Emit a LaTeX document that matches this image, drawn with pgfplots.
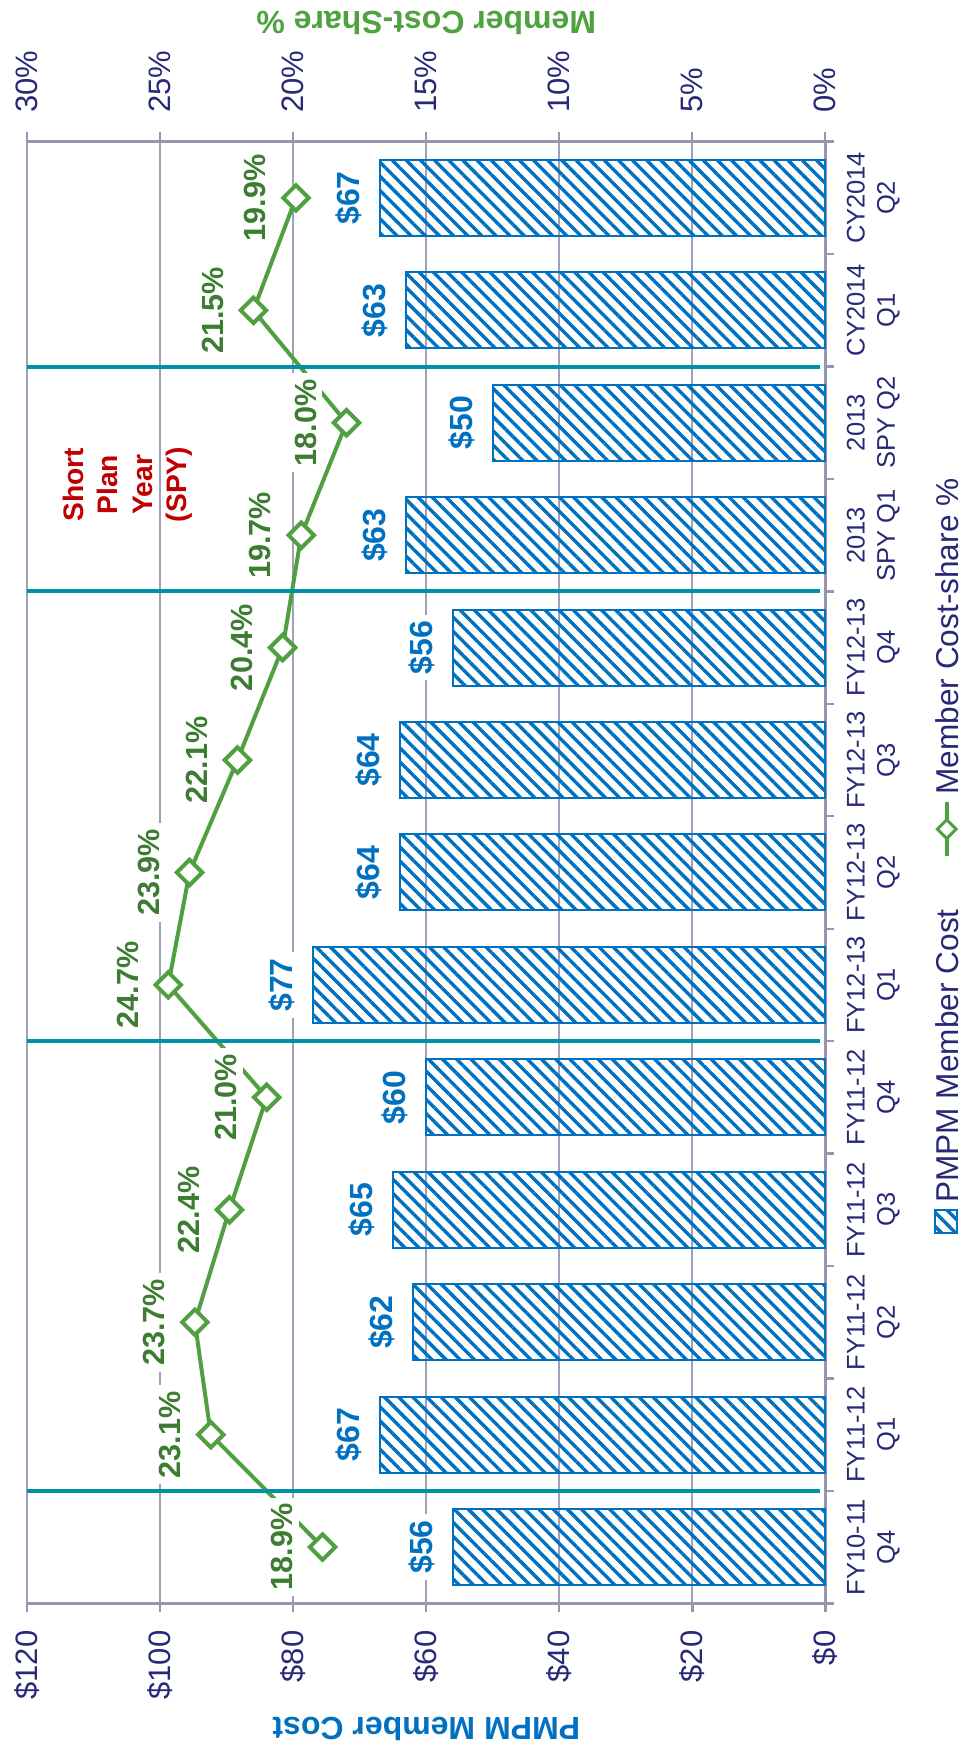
\documentclass[border=0pt]{standalone}
\usepackage{pgfplots}
\pgfplotsset{compat=1.18}
\usepackage{pgfplotstable}
\usepackage{fontspec}
\setmainfont{Liberation Sans}
\usetikzlibrary{patterns.meta}

\definecolor{barblue}{RGB}{0,112,192}
\definecolor{navy}{RGB}{40,40,120}
\definecolor{gridgray}{RGB}{160,160,186}
\definecolor{axisgray}{RGB}{150,150,176}
\definecolor{linegreen}{RGB}{80,160,65}
\definecolor{titlegreen}{RGB}{78,162,63}
\definecolor{labelgreen}{RGB}{60,125,50}
\definecolor{septeal}{RGB}{0,145,165}
\definecolor{spyred}{RGB}{192,0,0}

% quarter index, PMPM member cost ($), member cost-share (%)
\pgfplotstableread{
cat cost share
0   56   18.9
1   67   23.1
2   62   23.7
3   65   22.4
4   60   21.0
5   77   24.7
6   64   23.9
7   64   22.1
8   56   20.4
9   63   19.7
10  50   18.0
11  63   21.5
12  67   19.9
}\costdata

\tikzset{
  hatch/.style={draw=barblue, line width=1pt,
    pattern={Lines[angle=-45,distance=5pt,line width=1.7pt]}, pattern color=barblue},
  legendtext/.style={rotate=90, anchor=base west, inner sep=0pt,
    font=\fontsize{15.8}{18}\selectfont, text=navy},
}

\pgfplotsset{
  baseaxis/.style={
    scale only axis, width=399pt, height=730.8pt,
    at={(0pt,0pt)}, anchor=south west,
    x dir=reverse,
    ymin=-0.5, ymax=12.5,
    clip=false,
    axis line style={-, draw=axisgray, line width=1.2pt},
    tick style={draw=axisgray, line width=1.2pt},
    tick align=outside,
    /pgf/number format/assume math mode=true,
    tick label style={font=\fontsize{15.5}{18}\selectfont, text=navy, inner sep=0pt},
  },
}

\begin{document}
\begin{tikzpicture}
\path[use as bounding box] (-13.65pt,-72.35pt) rectangle (469.35pt,801.65pt);

% dollar scale with the cost bars
\begin{axis}[baseaxis,
  xmin=0, xmax=120,
  axis x line*=bottom, axis y line*=right,
  xtick={0,20,...,120},
  xticklabels={\$0,\$20,\$40,\$60,\$80,\$100,\$120},
  xticklabel style={rotate=90, anchor=east},
  xticklabel shift=9pt,
  major tick length=4.5pt,
  xmajorgrids, grid style={draw=gridgray, line width=1pt},
  ytick={-0.5,0.5,1.5,2.5,3.5,4.5,5.5,6.5,7.5,8.5,9.5,10.5,11.5,12.5},
  yticklabels={},
  extra y ticks={0,1,2,3,4,5,6,7,8,9,10,11,12},
  extra y tick labels={{FY10-11\\Q4},{FY11-12\\Q1},{FY11-12\\Q2},{FY11-12\\Q3},{FY11-12\\Q4},{FY12-13\\Q1},{FY12-13\\Q2},{FY12-13\\Q3},{FY12-13\\Q4},{2013\\SPY Q1},{2013\\SPY Q2},{CY2014\\Q1},{CY2014\\Q2}},
  extra y tick style={major tick length=0pt,
    yticklabel style={rotate=90, anchor=north, align=center,
      font=\fontsize{12.75}{15.2}\selectfont, text=navy}},
  yticklabel shift=10.5pt,
  xlabel={PMPM Member Cost},
  xlabel style={at={(axis description cs:0.5,-0.0857)}, anchor=center, rotate=180,
    font=\bfseries\fontsize{16}{19}\selectfont, text=barblue},
  bar width=38pt,
]
\addplot[xbar, hatch, point meta=x,
  nodes near coords={\$\pgfmathprintnumber{\pgfplotspointmeta}},
  nodes near coords align=vertical,
  every node near coord/.append style={rotate=90, anchor=south, fill=white,
    inner sep=3pt, outer sep=6pt, font=\bfseries\fontsize{16}{19}\selectfont, text=barblue},
] table[x=cost, y=cat] {\costdata};
\end{axis}

% percentage scale with the cost-share line
\begin{axis}[baseaxis,
  xmin=0, xmax=30,
  axis x line*=top, axis y line=none, ytick=\empty,
  xtick={0,5,...,30},
  xticklabels={0\%,5\%,10\%,15\%,20\%,25\%,30\%},
  xticklabel style={rotate=90, anchor=west},
  xticklabel shift=9.3pt,
  major tick length=5pt,
  xlabel={Member Cost-Share \%},
  xlabel style={at={(axis description cs:0.5,1.0809)}, anchor=center, rotate=180,
    font=\bfseries\fontsize{16}{19}\selectfont, text=titlegreen},
]
\addplot[linegreen, line width=2pt, line join=round,
  mark=square*, mark size=4.5pt,
  mark options={rotate=45, fill=white, draw=linegreen, line width=2pt, line join=miter},
  point meta=x,
  nodes near coords={\pgfmathprintnumber[fixed, fixed zerofill, precision=1]{\pgfplotspointmeta}\%},
  nodes near coords align=vertical,
  every node near coord/.append style={rotate=90, anchor=south, fill=white,
    inner sep=3pt, outer sep=12pt, font=\bfseries\fontsize{15.3}{18}\selectfont, text=labelgreen},
] table[x=share, y=cat] {\costdata};

% plan-year separators
\addplot[septeal, line width=2pt] coordinates {(0.2,0.5) (30,0.5)};
\addplot[septeal, line width=2pt] coordinates {(0.2,4.5) (30,4.5)};
\addplot[septeal, line width=2pt] coordinates {(0.2,8.5) (30,8.5)};
\addplot[septeal, line width=2pt] coordinates {(0.2,10.5) (30,10.5)};

\node[rotate=90, align=center, text=spyred,
  font=\bfseries\fontsize{14.1}{17.25}\selectfont] at (axis cs:26.23,9.45) {Short\\Plan\\Year\\(SPY)};
\end{axis}

% legend, set along the right edge
\draw[hatch] (453.85pt,185.2pt) rectangle (464.85pt,196.7pt);
\node[legendtext] at (465.35pt,200.15pt) {PMPM Member Cost};
\draw[linegreen, line width=2pt] (459.7pt,373.6pt) -- (459.7pt,400.8pt);
\draw[linegreen, line width=1.5pt, fill=white] (459.7pt,382.4pt) -- (464.4pt,387.1pt)
  -- (459.7pt,391.8pt) -- (455pt,387.1pt) -- cycle;
\node[legendtext] at (465.35pt,404.15pt) {Member Cost-share \%};
\end{tikzpicture}
\end{document}
